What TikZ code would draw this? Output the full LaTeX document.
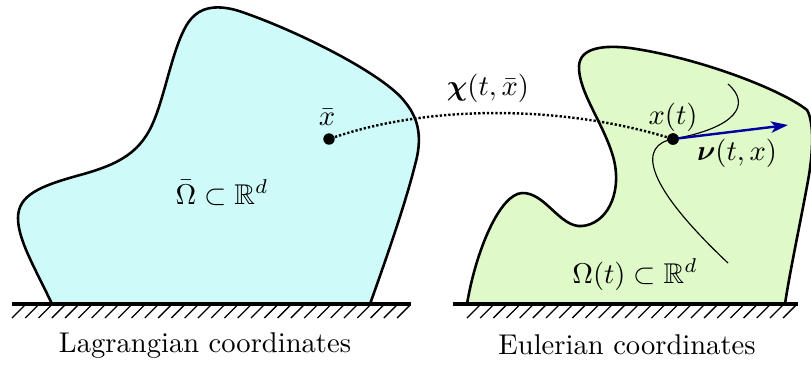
\documentclass[tikz,border=0pt]{standalone}
\usepackage{amsmath,amssymb,bm}
\usetikzlibrary{arrows.meta}
\definecolor{lagfill}{RGB}{207,250,250}
\definecolor{eulfill}{RGB}{223,249,201}
\definecolor{velblue}{RGB}{0,0,160}
\begin{document}
\begin{tikzpicture}[x=0.35pt,y=-0.35pt,
  boundary/.style={line width=0.9pt, line join=round},
  ground/.style={line width=1.1pt},
  hatch/.style={line width=0.45pt},
  dot/.style={circle, fill=black, inner sep=0pt, minimum size=4pt},
  lbl/.style={inner sep=0pt, anchor=base},
  traj/.style={line width=0.85pt, dash pattern=on 0.8pt off 0.7pt},
  streamline/.style={line width=0.4pt},
  vel/.style={velblue, line width=0.85pt, -{Stealth[length=6pt, width=4pt, inset=1.6pt]}}]
\useasboundingbox (0,0) rectangle (811,364);

% Lagrangian domain
\filldraw[boundary, fill=lagfill]
  (52,304) .. controls (35,268) and (18,240) .. (18,218)
  .. controls (18,195) and (40,186) .. (80,175)
  .. controls (120,164) and (142,152) .. (155,118)
  .. controls (168,85) and (176,30) .. (195,15)
  .. controls (205,6) and (222,5) .. (242,12)
  .. controls (300,32) and (385,75) .. (405,102)
  .. controls (420,120) and (422,140) .. (415,165)
  .. controls (405,205) and (385,262) .. (370,304) -- cycle;

% Eulerian domain
\filldraw[boundary, fill=eulfill]
  (467,304) .. controls (476,250) and (500,194) .. (522,193)
  .. controls (545,192) and (560,228) .. (582,226)
  .. controls (606,224) and (622,195) .. (614,160)
  .. controls (605,125) and (578,92) .. (579,66)
  .. controls (580,47) and (605,45) .. (630,48)
  .. controls (700,58) and (782,90) .. (807,110)
  .. controls (814,122) and (813,150) .. (809,175)
  .. controls (801,220) and (790,270) .. (785,304) -- cycle;

% grounds
\draw[ground] (12,304) -- (411,304);
\foreach \i in {0,...,29} \draw[hatch] (12+\i*13.28,318) -- ++(13,-13);
\draw[ground] (453,304) -- (798,304);
\foreach \i in {0,...,24} \draw[hatch] (467+\i*13.17,318) -- ++(13,-13);

% points
\node[dot] (xb) at (329,139) {};
\node[dot] (xt) at (673,139) {};
\coordinate (sa) at (728,84);
\coordinate (sb) at (728,263);
\coordinate (vend) at (788,125);

% streamline through x(t)
\draw[streamline] (sa) .. controls (752,105) and (735,128) .. (xt.center)
  .. controls (640,145) and (640,180) .. (sb);

\draw[traj] (xb) .. controls (430,105) and (560,105) .. (xt);
\draw[vel] (xt.center) -- (vend);
\node[dot] at (xt) {};

% labels
\node[lbl] (lxb) at (327,125) {$\bar{x}$};
\node[lbl] (lxt) at (673,124) {$x(t)$};
\node[lbl] (lnu) at (737,160) {$\bm{\nu}(t,x)$};
\node[lbl] (lchi) at (488,95) {$\bm{\chi}(t,\bar{x})$};
\node[lbl] (lob) at (222,204) {$\bar{\Omega}\subset\mathbb{R}^d$};
\node[lbl] (lot) at (635,283) {$\Omega(t)\subset\mathbb{R}^d$};
\node[lbl] (lag) at (205,352) {Lagrangian coordinates};
\node[lbl] (eul) at (627,354) {Eulerian coordinates};
\end{tikzpicture}
\end{document}
